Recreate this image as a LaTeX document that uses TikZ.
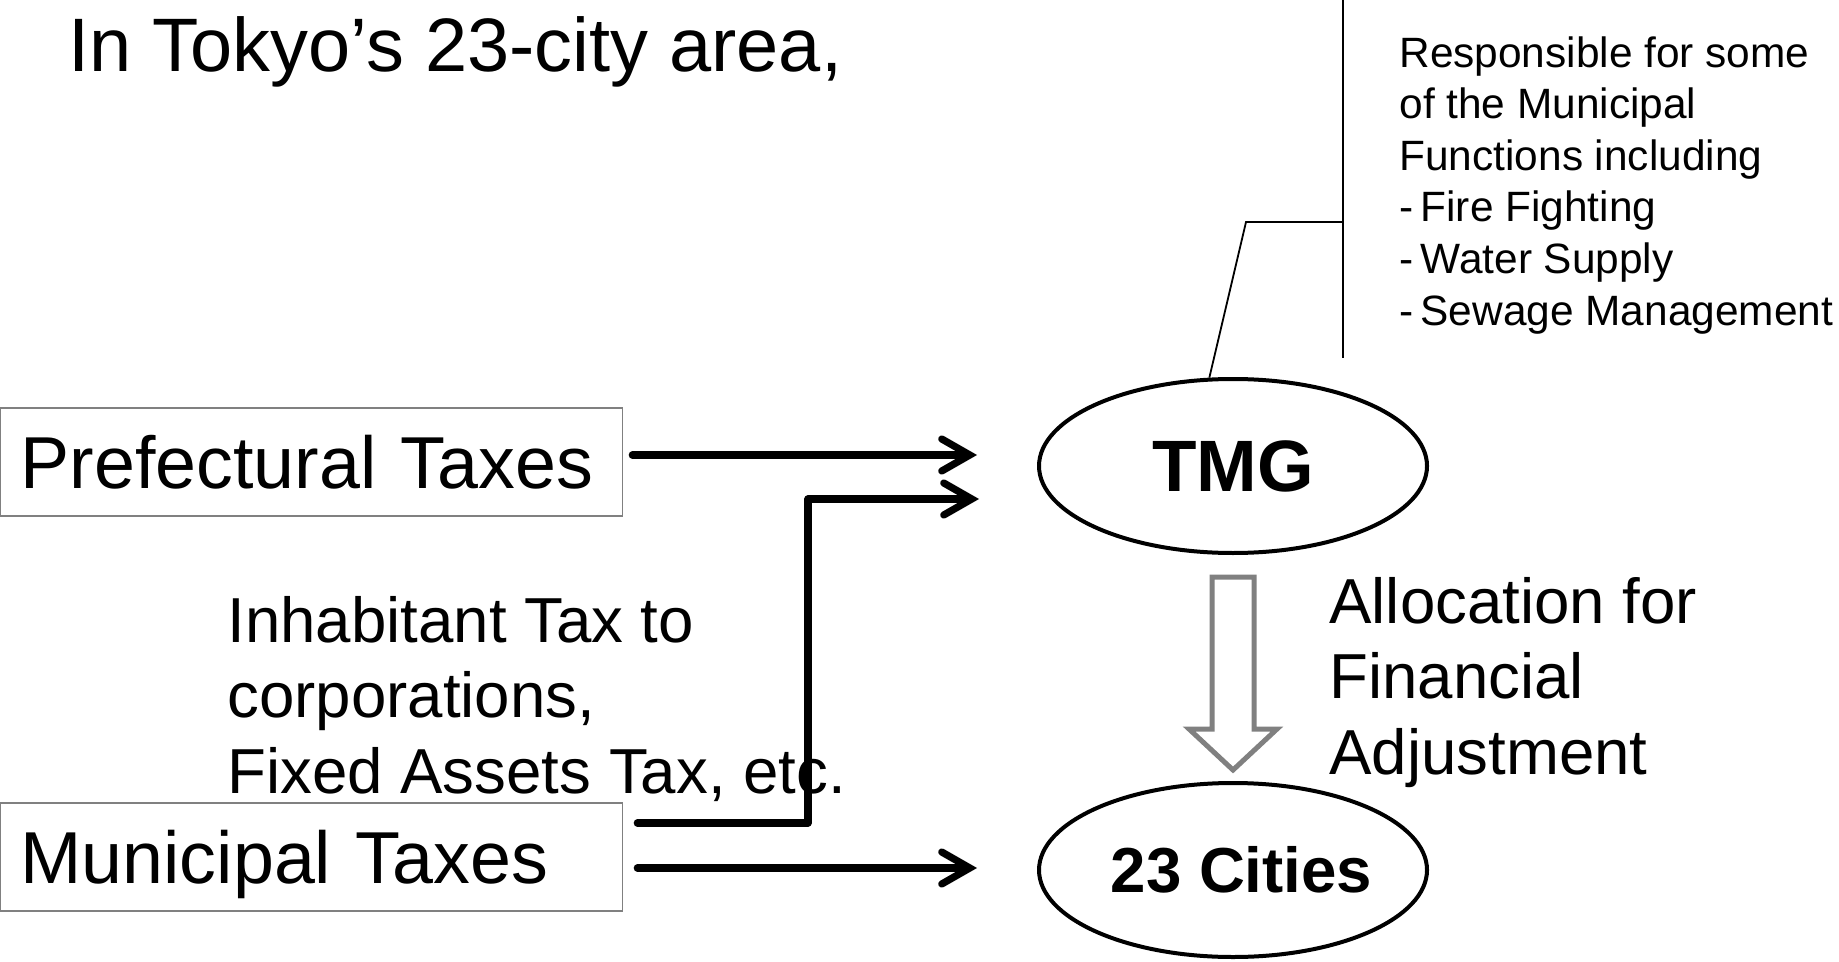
\documentclass[tikz,border=0pt]{standalone}
\usepackage{fontspec}
\setmainfont{Liberation Sans}
\usetikzlibrary{arrows.meta, calc, shapes.geometric}

\begin{document}
\begin{tikzpicture}[x = 0.5pt, y = -0.5pt,
  taxbox/.style = {draw = gray, line width = 0.8pt, minimum height = 54pt, text width = 291pt,
    inner xsep = 10pt, inner ysep = 0pt, align = left, text height = 26pt, text depth = 0pt,
    font = \fontsize{36.8}{43}\selectfont},
  govt/.style = {draw, ellipse, line width = 2pt, minimum width = 194pt, inner sep = 0pt},
  taxarrow/.style = {line width = 3.6pt, line cap = round, line join = round,
    -{Straight Barb[length = 14pt, width = 16pt, line cap = round]}},
  allocarrow/.style = {draw = gray, line width = 2.5pt, fill = white},
  callout/.style = {line width = 0.9pt},
  note/.style = {anchor = north west, align = left, inner sep = 0pt,
    font = \fontsize{31.8}{37.7}\selectfont}]
\useasboundingbox (0, 0) rectangle (1839, 962);

% tax sources and receivers
\node[taxbox] (pref) at (311.5, 462) {Prefectural Taxes};
\node[taxbox] (muni) at (311.5, 857) {Municipal Taxes};
\node[govt, minimum height = 87pt, font = \fontsize{36.4}{43}\selectfont\bfseries] (tmg) at (1233, 466) {TMG};
\node[govt, minimum height = 87pt, font = \fontsize{31.8}{38}\selectfont\bfseries] (cities) at (1233, 870)
  {\makebox[130pt]{\hspace*{8.5pt}23 Cities}};

% flows
\coordinate (jog) at (808, 499);
\draw[taxarrow, shorten <= 4.5pt, shorten >= 30pt] ([yshift = 3.5pt]pref.east) -- ([yshift = 3.5pt]pref.east -| tmg.west);
\draw[taxarrow, shorten <= 7pt, shorten >= 29pt] ([yshift = 17pt]muni.east) -| (jog) -- (jog -| tmg.west);
\draw[taxarrow, shorten <= 7pt, shorten >= 30pt] ([yshift = -5.5pt]muni.east) -- ([yshift = -5.5pt]muni.east -| cities.west);

% allocation (hollow arrow)
\coordinate (ha) at ($(tmg.south) + (0, 22)$);
\coordinate (hb) at ($(cities.north) + (0, -11)$);
\draw[allocarrow] ($(ha) + (-21, 0)$) -- ($(ha) + (21, 0)$) -- ($(hb) + (21, -41)$) -- ($(hb) + (44, -41)$)
  -- (hb) -- ($(hb) + (-44, -41)$) -- ($(hb) + (-21, -41)$) -- cycle;

% callout
\coordinate (calltop) at (1343, 0);
\coordinate (callbot) at (1343, 358);
\coordinate (callknee) at (1246, 222);
\draw[callout] (calltop) -- (callbot);
\draw[callout] (tmg.105) -- (callknee) -- (callknee -| calltop);

% texts
\node[anchor = base west, inner sep = 0pt, font = \fontsize{37.9}{45}\selectfont] (title) at (68, 72) {In Tokyo’s 23-city area,};
\node[note] (inhab) at (227, 596) {Inhabitant Tax to\\corporations,\\Fixed Assets Tax, etc.};
\node[note] (alloc) at (1329, 577) {Allocation for\\Financial\\Adjustment};
\node[note, font = \fontsize{21.2}{25.8}\selectfont] (duty) at (1399, 36)
  {Responsible for some\\of the Municipal\\Functions including\\-\,Fire Fighting\\-\,Water Supply\\-\,Sewage Management};
\end{tikzpicture}
\end{document}
